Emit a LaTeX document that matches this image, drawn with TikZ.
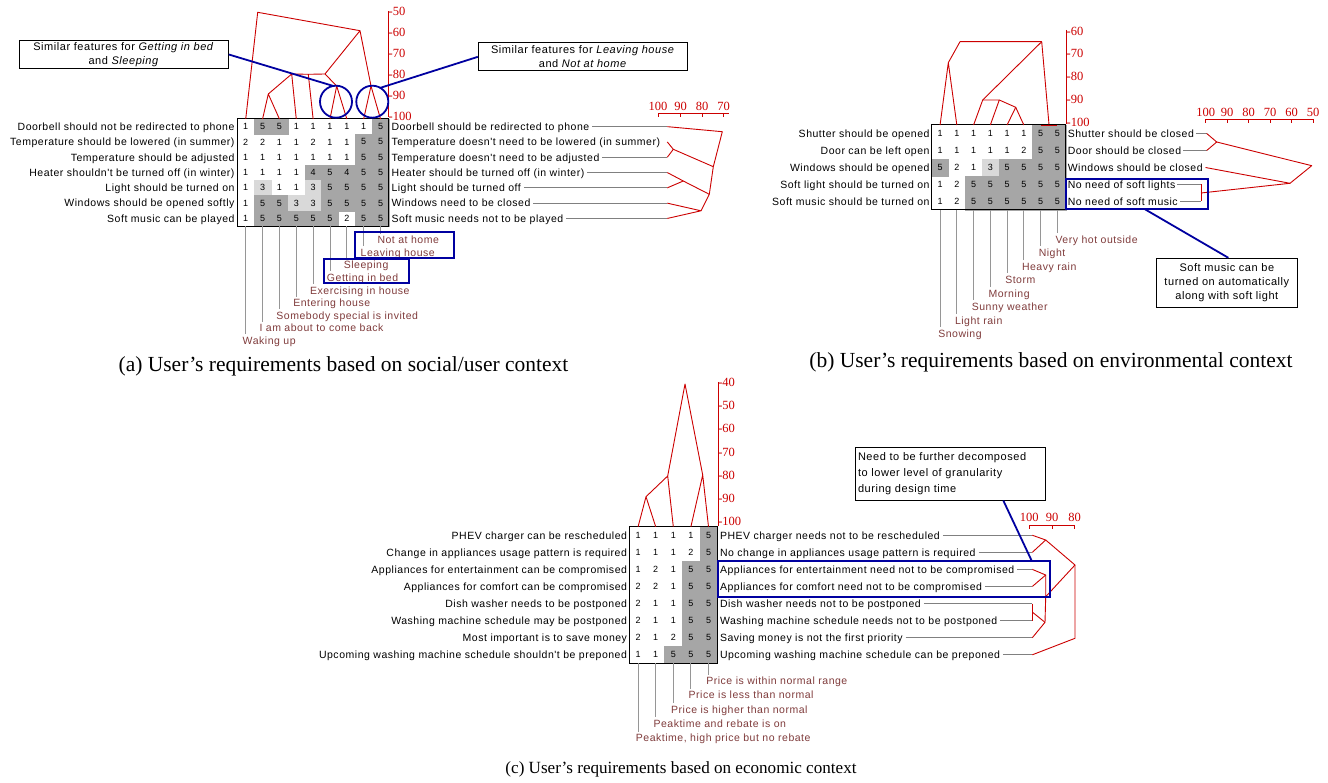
\documentclass[tikz,border=0pt]{standalone}
\usepackage{fontspec}
\setmainfont{Liberation Sans}
\newfontfamily\labfont{Liberation Sans}[LetterSpace=5]
\newfontfamily\serfont{Liberation Serif}
\usetikzlibrary{calc}

\definecolor{dred}{RGB}{204,0,0}
\definecolor{leadgray}{RGB}{128,128,128}
\definecolor{colgray}{RGB}{150,150,150}
\definecolor{hlblue}{RGB}{0,0,160}
\definecolor{cdark}{RGB}{166,166,166}
\definecolor{clight}{RGB}{217,217,217}
\definecolor{botred}{RGB}{128,60,60}

\tikzset{
  lab/.style={font=\labfont\fontsize{10.5}{12}\selectfont, inner sep=0pt, outer sep=0pt, text height=7.6pt, text depth=0pt},
  leftlab/.style={lab, anchor=east},
  rightlab/.style={lab, anchor=west},
  botlab/.style={lab, anchor=west, text=botred},
  cellnum/.style={font=\fontsize{9}{10}\selectfont, inner sep=0pt},
  gridframe/.style={draw=black, line width=1pt, inner sep=0pt, outer sep=0pt, anchor=north west},
  dend/.style={draw=dred, line width=0.9pt, line join=round},
  leader/.style={draw=leadgray, line width=0.9pt},
  collead/.style={draw=colgray, line width=0.9pt, shorten >=2.5pt},
  hl/.style={draw=hlblue, line width=1.8pt},
  hlbox/.style={draw=hlblue, line width=1.8pt, inner sep=0pt, outer sep=0pt},
  hlcircle/.style={circle, draw=hlblue, line width=1.8pt, minimum size=32pt, inner sep=0pt, outer sep=0pt},
  note/.style={draw=black, line width=1pt, fill=white, inner sep=2pt, font=\labfont\fontsize{11}{14}\selectfont, align=center},
  scalelab/.style={font=\serfont\fontsize{12.5}{14}\selectfont, text=dred, inner sep=0pt, outer sep=0pt, text height=8.3pt, text depth=0pt},
  figcap/.style={font=\serfont\fontsize{21.5}{24}\selectfont, inner sep=0pt}
}

% rating grid: prefix, x0, y0, cell width, cell height, columns, rows, values
\newcommand\matgrid[8]{%
  \foreach \rowvals [count=\r] in {#8}{%
    \foreach \v [count=\c] in \rowvals {%
      \ifnum\v>3\relax
        \fill[cdark, draw=cdark, line width=0.3pt] ({#2+(\c-1)*#4},{#3+(\r-1)*#5}) rectangle ++(#4,#5);
      \fi
      \ifnum\v=3\relax
        \fill[clight, draw=clight, line width=0.3pt] ({#2+(\c-1)*#4},{#3+(\r-1)*#5}) rectangle ++(#4,#5);
      \fi
      \node[cellnum] (#1-\r-\c) at ({#2+(\c-0.5)*#4},{#3+(\r-0.5)*#5}) {\v};
    }%
  }%
  \foreach \c in {1,...,#6}{%
    \coordinate (#1-t\c) at ({#2+(\c-0.5)*#4},#3);
    \coordinate (#1-b\c) at ({#2+(\c-0.5)*#4},{#3+#7*#5});
  }%
  \node[gridframe, minimum width={#6*#4}, minimum height={#7*#5}] (#1-frame) at (#2,#3) {};
}

\begin{document}
\begin{tikzpicture}[x=1pt,y=-1pt]
\fill[white] (0,0) rectangle (1328,783);
\useasboundingbox (0,0) rectangle (1328,783);

% =================== (a) social / user context ===================
\matgrid{a}{237.3}{119}{16.85}{15.3}{9}{7}{{1,5,5,1,1,1,1,1,5},{2,2,1,1,2,1,1,5,5},{1,1,1,1,1,1,1,5,5},{1,1,1,1,4,5,4,5,5},{1,3,1,1,3,5,5,5,5},{1,5,5,3,3,5,5,5,5},{1,5,5,5,5,5,2,5,5}}

\foreach \t [count=\i] in {Doorbell should not be redirected to phone, Temperature should be lowered (in summer), Temperature should be adjusted, Heater shouldn't be turned off (in winter), Light should be turned on, Windows should be opened softly, Soft music can be played}
  \node[leftlab] (al\i) at (234.5,{119+15.3*(\i-0.5)}) {\t};

\foreach \t [count=\i] in {Doorbell should be redirected to phone, Temperature doesn't need to be lowered (in summer), Temperature doesn't need to be adjusted, Heater should be turned off (in winter), Light should be turned off, Windows need to be closed, Soft music needs not to be played}
  \node[rightlab] (ar\i) at (391.5,{119+15.3*(\i-0.5)}) {\t};

% row dendrogram
\foreach \i in {1,...,7} \coordinate (ra-l\i) at (667.3,{119+15.3*(\i-0.5)});
\foreach \i in {1,3,4,5,6,7} \draw[leader] ([xshift=3pt]ar\i.east) -- (ra-l\i);
\coordinate (ra-j23) at (673.3,149.3);
\coordinate (ra-j45) at (683.3,181);
\coordinate (ra-j67) at (701,210.8);
\coordinate (ra-j47) at (709.3,194.3);
\coordinate (ra-j27) at (713.3,166.7);
\coordinate (ra-root) at (722.3,131.7);
\draw[dend] (ra-l2) -- (ra-j23) -- (ra-l3);
\draw[dend] (ra-l4) -- (ra-j45) -- (ra-l5);
\draw[dend] (ra-l6) -- (ra-j67) -- (ra-l7);
\draw[dend] (ra-j45) -- (ra-j47) -- (ra-j67);
\draw[dend] (ra-j23) -- (ra-j27) -- (ra-j47);
\draw[dend] (ra-l1) -- (ra-root) -- (ra-j27);

% row similarity scale
\draw[dend] (658,113.3) -- (729,113.3);
\foreach \xx/\v in {658/100, 680.5/90, 702/80, 723.5/70}{
  \draw[dend] (\xx,113.3) -- ++(0,4);
  \node[scalelab, anchor=base] (sra\v) at (\xx,110.1) {\v};
}

% column dendrogram
\coordinate (ta-23) at (268.3,94);
\coordinate (ta-234) at (291.7,74);
\coordinate (ta-2345) at (308.3,74.3);
\coordinate (ta-67) at (336.7,86);
\coordinate (ta-27) at (325,74);
\coordinate (ta-89) at (371,86);
\coordinate (ta-29) at (360,30.7);
\coordinate (ta-root) at (257.7,12.3);
\draw[dend] (a-t2) -- (ta-23) -- (a-t3);
\draw[dend] (ta-23) -- (ta-234) -- (a-t4);
\draw[dend] (ta-234) -- (ta-2345) -- (a-t5);
\draw[dend] (ta-2345) -- (ta-27) -- (ta-67);
\draw[dend] (a-t6) -- (ta-67) -- (a-t7);
\draw[dend] (ta-27) -- (ta-29) -- (ta-89);
\draw[dend] (a-t8) -- (ta-89) -- (a-t9);
\draw[dend] (a-t1) -- (ta-root) -- (ta-29);

% column similarity scale
\draw[dend] (388.6,11) -- (388.6,117.5);
\foreach \v/\yy in {50/11.7, 60/32.6, 70/53.5, 80/74.4, 90/95.3, 100/116.2}
  \node[scalelab, anchor=west] (sca\v) at (388.6,\yy) {-\v};

% column labels
\foreach \t/\yy [count=\c] in {Waking up/340.8, I am about to come back/328.2, Somebody special is invited/315.6, Entering house/303, Exercising in house/290.4, Getting in bed/277.8, Sleeping/265.2, Leaving house/252.6, Not at home/240}{
  \node[botlab, xshift=-3pt] (ab\c) at (a-b\c |- 0,\yy) {\t};
  \draw[collead] (a-b\c) -- (a-b\c |- ab\c.north);
}

% highlights
\node[hlcircle] (circA) at (336,101.7) {};
\node[hlcircle] (circB) at (372.3,101.7) {};
\node[hlbox, minimum width=99.3pt, minimum height=26pt] (hlA1) at (404.65,245.3) {};
\node[hlbox, minimum width=85pt, minimum height=24.3pt] (hlA2) at (366.8,271.15) {};
\node[note, minimum width=209.3pt, minimum height=27.6pt] (noteA) at (123.65,54.5) {Similar features for \textit{Getting in bed}\\and \textit{Sleeping}};
\node[note, minimum width=209pt, minimum height=28.3pt] (noteB) at (582.8,56.85) {Similar features for \textit{Leaving house}\\and \textit{Not at home}};
\draw[hl] (noteA.east) -- (circA.100);
\draw[hl] (noteB.west) -- (circB.60);

\node[figcap] (capA) at (343.5,366) {(a) User’s requirements based on social/user context};

% =================== (b) environmental context ===================
\matgrid{b}{931.7}{125}{16.75}{17}{8}{5}{{1,1,1,1,1,1,5,5},{1,1,1,1,1,2,5,5},{5,2,1,3,5,5,5,5},{1,2,5,5,5,5,5,5},{1,2,5,5,5,5,5,5}}

\foreach \t [count=\i] in {Shutter should be opened, Door can be left open, Windows should be opened, Soft light should be turned on, Soft music should be turned on}
  \node[leftlab] (bl\i) at (929.5,{125+17*(\i-0.5)}) {\t};

\foreach \t [count=\i] in {Shutter should be closed, Door should be closed, Windows should be closed, No need of soft lights, No need of soft music}
  \node[rightlab] (br\i) at (1067.8,{125+17*(\i-0.5)}) {\t};

% row dendrogram
\coordinate (rb-l1) at (1206.7,133.5);
\coordinate (rb-l2) at (1206.7,150.5);
\coordinate (rb-l3) at (1205.5,167.5);
\coordinate (rb-l4) at (1201,184.5);
\coordinate (rb-l5) at (1201,201.5);
\foreach \i in {1,2,4,5} \draw[leader] ([xshift=2pt]br\i.east) -- (rb-l\i);
\coordinate (rb-j12) at (1216.7,142);
\coordinate (rb-j45) at (1201,193);
\coordinate (rb-j345) at (1290,183.3);
\coordinate (rb-root) at (1311.7,165.7);
\draw[dend] (rb-l1) -- (rb-j12) -- (rb-l2);
\draw[dend] (rb-l4) -- (rb-l5);
\draw[dend] (rb-l3) -- (rb-j345) -- (rb-j45);
\draw[dend] (rb-j12) -- (rb-root) -- (rb-j345);

% row similarity scale
\draw[dend] (1205.7,119.3) -- (1313.3,119.3);
\foreach \xx/\v in {1205.7/100, 1227.2/90, 1248.7/80, 1270.2/70, 1291.7/60, 1313.2/50}{
  \draw[dend] (\xx,119.3) -- ++(0,4);
  \node[scalelab, anchor=base] (srb\v) at (\xx,116.1) {\v};
}

% column dendrogram
\coordinate (tb-12) at (948.3,62.7);
\coordinate (tb-r1) at (960,41.7);
\coordinate (tb-r2) at (1041.7,41.7);
\coordinate (tb-78) at (1049,124.5);
\coordinate (tb-36) at (982.7,100);
\coordinate (tb-46) at (999.3,100);
\coordinate (tb-56) at (1015.7,107.3);
\draw[dend] (b-t1) -- (tb-12) -- (b-t2);
\draw[dend] (tb-12) -- (tb-r1) -- (tb-r2) -- (tb-78);
\draw[dend] (b-t7) -- (b-t8);
\draw[dend] (tb-r2) -- (tb-36) -- (b-t3);
\draw[dend] (tb-36) -- (tb-46) -- (b-t4);
\draw[dend] (tb-46) -- (tb-56) -- (b-t5);
\draw[dend] (tb-56) -- (b-t6);

% column similarity scale
\draw[dend] (1066.7,30) -- (1066.7,124);
\foreach \v/\yy in {60/31, 70/53.8, 80/76.6, 90/99.4, 100/122.2}
  \node[scalelab, anchor=west] (scb\v) at (1066.7,\yy) {-\v};

% column labels
\foreach \t/\yy [count=\c] in {Snowing/333.8, Light rain/320.3, Sunny weather/306.8, Morning/293.3, Storm/279.8, Heavy rain/266.3, Night/252.8, Very hot outside/239.3}{
  \node[botlab, xshift=-1.8pt] (bb\c) at (b-b\c |- 0,\yy) {\t};
  \draw[collead] (b-b\c) -- (b-b\c |- bb\c.north);
}

% highlight and note
\node[hlbox, minimum width=142pt, minimum height=30.3pt] (hlB) at (1136.7,194.15) {};
\node[note, minimum width=141.7pt, minimum height=49.4pt] (noteC) at (1226.85,283) {Soft music can be\\turned on automatically\\along with soft light};
\draw[hl] ([xshift=8.3pt]hlB.south) -- ([xshift=1.5pt]noteC.north);

\node[figcap] (capB) at (1051,362) {(b) User’s requirements based on environmental context};

% =================== (c) economic context ===================
\matgrid{c}{629.3}{526.7}{17.6}{17.08}{5}{8}{{1,1,1,1,5},{1,1,1,2,5},{1,2,1,5,5},{2,2,1,5,5},{2,1,1,5,5},{2,1,1,5,5},{2,1,2,5,5},{1,1,5,5,5}}

\foreach \t [count=\i] in {PHEV charger can be rescheduled, Change in appliances usage pattern is required, Appliances for entertainment can be compromised, Appliances for comfort can be compromised, Dish washer needs to be postponed, Washing machine schedule may be postponed, Most important is to save money, Upcoming washing machine schedule shouldn't be preponed}
  \node[leftlab] (cl\i) at (627,{526.7+17.08*(\i-0.5)}) {\t};

\foreach \t [count=\i] in {PHEV charger needs not to be rescheduled, No change in appliances usage pattern is required, Appliances for entertainment need not to be compromised, Appliances for comfort need not to be compromised, Dish washer needs not to be postponed, Washing machine schedule needs not to be postponed, Saving money is not the first priority, Upcoming washing machine schedule can be preponed}
  \node[rightlab] (cr\i) at (720,{526.7+17.08*(\i-0.5)}) {\t};

% row dendrogram
\foreach \i in {1,...,8} \coordinate (rc-l\i) at (1032.3,{526.7+17.08*(\i-0.5)});
\foreach \i in {1,...,8} \draw[leader] ([xshift=3pt]cr\i.east) -- (rc-l\i);
\coordinate (rc-j12) at (1045.7,540);
\coordinate (rc-j34) at (1045.7,575);
\coordinate (rc-j56) at (1032.3,612.1);
\coordinate (rc-j567) at (1045,622.3);
\coordinate (rc-j37) at (1045.7,596.7);
\coordinate (rc-a) at (1075,565);
\coordinate (rc-root) at (1075,638.3);
\draw[dend] (rc-l1) -- (rc-j12) -- (rc-l2);
\draw[dend] (rc-l3) -- (rc-j34) -- (rc-l4);
\draw[dend] (rc-l5) -- (rc-l6);
\draw[dend] (rc-j56) -- (rc-j567) -- (rc-l7);
\draw[dend] (rc-j34) -- (rc-j37) -- (rc-j567);
\draw[dend] (rc-j12) -- (rc-a) -- (rc-j37);
\draw[dend] (rc-a) -- (rc-root) -- (rc-l8);

% row similarity scale
\draw[dend] (1029.3,525) -- (1075,525);
\foreach \xx/\v in {1029.3/100, 1052/90, 1074.5/80}{
  \draw[dend] (\xx,525) -- ++(0,4);
  \node[scalelab, anchor=base] (src\v) at (\xx,521.8) {\v};
}

% column dendrogram
\coordinate (tc-12) at (646,496.7);
\coordinate (tc-123) at (667.7,476);
\coordinate (tc-45) at (702.7,475);
\coordinate (tc-root) at (685,384);
\draw[dend] (c-t1) -- (tc-12) -- (c-t2);
\draw[dend] (tc-12) -- (tc-123) -- (c-t3);
\draw[dend] (tc-123) -- (tc-root) -- (tc-45);
\draw[dend] (c-t4) -- (tc-45) -- (c-t5);

% column similarity scale
\draw[dend] (718.3,382) -- (718.3,526);
\foreach \v/\yy in {40/382, 50/405.3, 60/428.6, 70/451.9, 80/475.2, 90/498.5, 100/521.8}
  \node[scalelab, anchor=west] (scc\v) at (718.3,\yy) {-\v};

% column labels
\foreach \t/\yy [count=\c] in {{Peaktime, high price but no rebate}/737.8, Peaktime and rebate is on/723.5, Price is higher than normal/709.3, Price is less than normal/695, Price is within normal range/680.8}{
  \node[botlab, xshift=-2.2pt] (cb\c) at (c-b\c |- 0,\yy) {\t};
  \draw[collead] (c-b\c) -- (c-b\c |- cb\c.north);
}

% highlight and note
\node[hlbox, minimum width=331.7pt, minimum height=36pt] (hlC) at (884.15,578.7) {};
\node[note, minimum width=190pt, minimum height=53pt, text width=184pt, align=left, inner sep=3pt, font=\labfont\fontsize{11}{16}\selectfont] (noteE) at (950,473.5) {Need to be further decomposed\\to lower level of granularity\\during design time};
\draw[hl] ([xshift=53.3pt]noteE.south) -- ([xshift=147.5pt]hlC.north);

\node[figcap, font=\serfont\fontsize{17.1}{20}\selectfont] (capC) at (681,769) {(c) User’s requirements based on economic context};

\end{tikzpicture}
\end{document}
